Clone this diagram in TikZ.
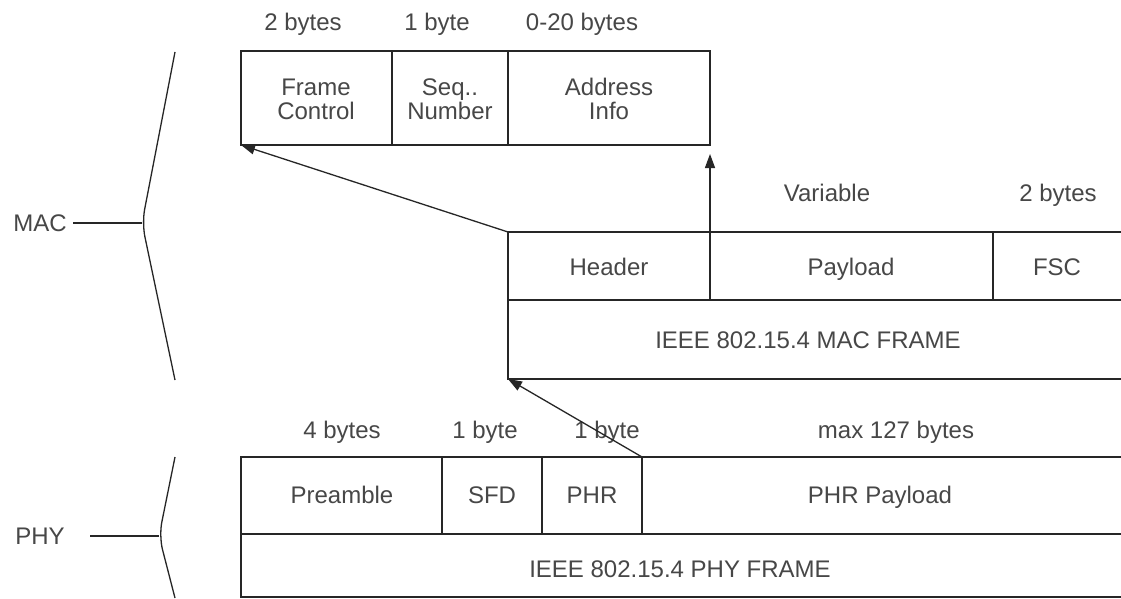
\documentclass[tikz,border=0pt]{standalone}
\usepackage{fontspec}
\setmainfont{Liberation Sans}
\usetikzlibrary{arrows.meta}
\begin{document}
\begin{tikzpicture}[x=1pt,y=-1pt,
  cell/.style={draw=black!85, line width=1.3pt, anchor=north west, inner sep=0pt, outer sep=0pt},
  lbl/.style={text=black!72, font=\fontsize{24}{27}\selectfont, inner sep=0pt, text height=17.2pt, text depth=0pt},
  brace/.style={draw=black!85, line width=1.3pt, rounded corners=14pt},
  conn/.style={draw=black!85, line width=1.3pt, -{Triangle[length=14pt,width=10pt]}}]
\clip (0,0) rectangle (1121,599);
\fill[white] (0,0) rectangle (1121,599);
% top MAC header detail
\node[cell, minimum width=151pt, minimum height=94pt] (fc) at (241,51) {};
\node[cell, minimum width=116pt, minimum height=94pt] (sn) at (392,51) {};
\node[cell, minimum width=202pt, minimum height=94pt] (ai) at (508,51) {};
\node[lbl] (fct1) at (316,87) {Frame};
\node[lbl] (fct2) at (316,111) {Control};
\node[lbl] (snt1) at (450,87) {Seq..};
\node[lbl] (snt2) at (450,111) {Number};
\node[lbl] (ait1) at (609,87) {Address};
\node[lbl] (ait2) at (609,111) {Info};
\node[lbl] (l1) at (303,22) {2 bytes};
\node[lbl] (l2) at (437,22) {1 byte};
\node[lbl] (l3) at (582,22) {0-20 bytes};
% MAC frame
\node[cell, minimum width=202pt, minimum height=68pt] (hd) at (508,232) {};
\node[cell, minimum width=283pt, minimum height=68pt] (pl) at (710,232) {};
\node[cell, minimum width=130pt, minimum height=68pt] (fsc) at (993,232) {};
\node[lbl] (hdt) at (609,267) {Header};
\node[lbl] (plt) at (851,267) {Payload};
\node[lbl] (fsct) at (1057,267) {FSC};
\node[cell, minimum width=615pt, minimum height=79pt] (macf) at (508,300) {};
\node[lbl] (macft) at (808,340) {IEEE 802.15.4 MAC FRAME};
\node[lbl] (l4) at (827,193) {Variable};
\node[lbl] (l5) at (1058,193) {2 bytes};
% PHY frame
\node[cell, minimum width=201pt, minimum height=77pt] (pre) at (241,457) {};
\node[cell, minimum width=100pt, minimum height=77pt] (sfd) at (442,457) {};
\node[cell, minimum width=100pt, minimum height=77pt] (phr) at (542,457) {};
\node[cell, minimum width=481pt, minimum height=77pt] (pp) at (642,457) {};
\node[lbl] (pret) at (342,495) {Preamble};
\node[lbl] (sfdt) at (492,495) {SFD};
\node[lbl] (phrt) at (592,495) {PHR};
\node[lbl] (ppt) at (880,495) {PHR Payload};
\node[cell, minimum width=882pt, minimum height=63pt] (phyf) at (241,534) {};
\node[lbl] (phyft) at (680,569) {IEEE 802.15.4 PHY FRAME};
\node[lbl] (l6) at (342,430) {4 bytes};
\node[lbl] (l7) at (485,430) {1 byte};
\node[lbl] (l8) at (607,430) {1 byte};
\node[lbl] (l9) at (896,430) {max 127 bytes};
% braces
\node[lbl, anchor=center] (mac) at (40,223) {MAC};
\coordinate (mactip) at (142,223);
\draw[brace] (175,52) -- (mactip) -- (175,380);
\draw[draw=black!85, line width=1.3pt] (73,223) -- (mactip);
\node[lbl, anchor=center] (phy) at (40,536) {PHY};
\coordinate (phytip) at (159,536);
\draw[brace] (175,457) -- (phytip) -- (175,598);
\draw[draw=black!85, line width=1.3pt] (90,536) -- (phytip);
% connectors
\coordinate (aitip) at (710,154);
\draw[conn] (hd.north west) -- (fc.south west);
\draw[conn] (hd.north east) -- (aitip);
\draw[conn] (phr.north east) -- (macf.south west);
\end{tikzpicture}
\end{document}
